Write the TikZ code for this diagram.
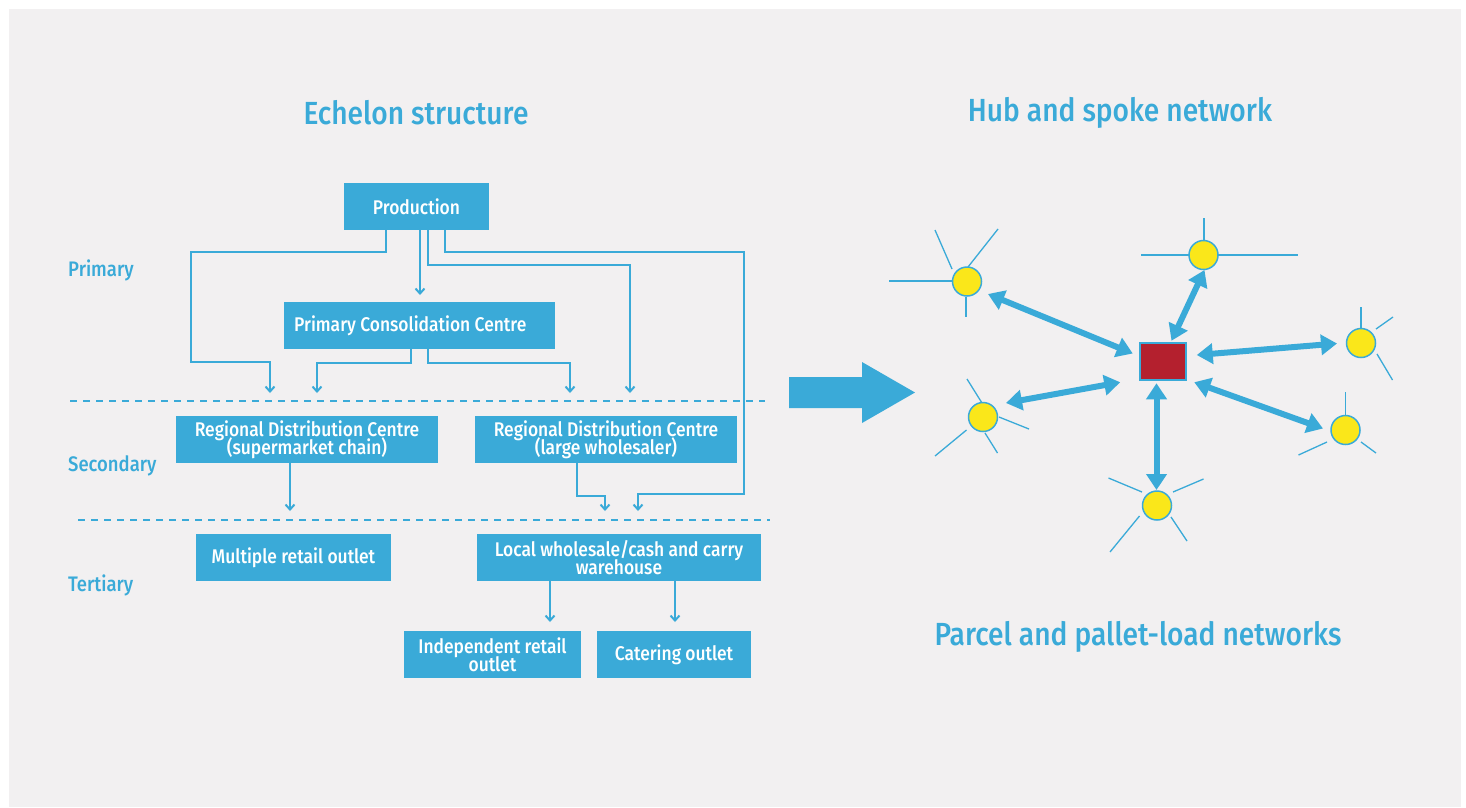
\documentclass[tikz,border=0pt]{standalone}
\usepackage{fontspec}
\IfFontExistsTF{Fira Sans Medium}{\setmainfont{Fira Sans}[BoldFont={Fira Sans Medium},FakeStretch=0.88]}{\setmainfont{Fira Sans}[FakeStretch=0.88]}
\usetikzlibrary{arrows.meta,calc}
\definecolor{eblue}{RGB}{58,170,216}
\definecolor{bggray}{RGB}{242,240,241}
\definecolor{hubred}{RGB}{180,32,46}
\definecolor{spokey}{RGB}{250,231,26}
\newcommand\tightlskip{\lineskiplimit=-20pt\relax}
\tikzset{
  box/.style={fill=eblue,text=white,font=\bfseries\fontsize{19.8}{18}\selectfont\tightlskip,inner sep=0pt,minimum height=47pt,align=center},
  conn/.style={draw=eblue,line width=2.2pt,-{Straight Barb[length=5pt,width=9pt,line width=2pt]}},
  dline/.style={draw=eblue,line width=2pt,dash pattern=on 7pt off 6pt},
  lvl/.style={text=eblue,font=\bfseries\fontsize{21}{23}\selectfont,anchor=west,inner sep=0pt},
  ttl/.style={text=eblue,font=\bfseries\fontsize{32}{34}\selectfont,inner sep=0pt},
  hubbox/.style={fill=hubred,draw=eblue,line width=1.5pt,minimum width=46pt,minimum height=37pt,inner sep=0pt},
  spoke/.style={circle,fill=spokey,draw=eblue,line width=1.5pt,minimum size=29pt,inner sep=0pt},
  ray/.style={draw=eblue,line width=1.3pt},
  dbl/.style={draw=eblue,line width=6pt,{Triangle[length=16pt,width=20pt]}-{Triangle[length=16pt,width=20pt]}},
}
\begin{document}
\begin{tikzpicture}[x=1pt,y=-1pt]
\useasboundingbox (0,0) rectangle (1466,807);
\fill[white] (0,0) rectangle (1466,807);
\fill[bggray] (9,9) rectangle (1461,807);

% titles
\node[ttl] (t1) at (416,113) {Echelon structure};
\node[ttl] (t2) at (1120,113) {Hub and spoke network};
\node[ttl] (t3) at (1138,637) {Parcel and pallet-load networks};

% level labels
\node[lvl] (lp) at (68,270) {Primary};
\node[lvl] (ls) at (68,466) {Secondary};
\node[lvl] (lt) at (68,585) {Tertiary};

% boxes
\node[box,minimum width=145pt] (prod) at (416.5,206.5) {Production};
\node[box,minimum width=271pt] (pcc) at (419.5,325.5) {};
\node[text=white,font=\bfseries\fontsize{19.8}{18}\selectfont,anchor=west,inner sep=0pt] (pcct) at (294,325.5) {Primary Consolidation Centre};
\node[box,minimum width=262pt] (rdcs) at (307,439.5) {Regional Distribution Centre\\(supermarket chain)};
\node[box,minimum width=262pt] (rdcl) at (606,439.5) {Regional Distribution Centre\\(large wholesaler)};
\node[box,minimum width=195pt] (mro) at (293.5,557.5) {Multiple retail outlet};
\node[box,minimum width=284pt] (lw) at (619,557.5) {Local wholesale/cash and carry\\warehouse};
\node[box,minimum width=177pt] (iro) at (492.5,654.5) {Independent retail\\outlet};
\node[box,minimum width=154pt] (cat) at (674,654.5) {Catering outlet};

% dashed level lines
\draw[dline] (70,401) -- (765,401);
\draw[dline] (78,520) -- (770,520);

% connectors
\draw[conn] (prod.south -| 386,0) |- (191,252) |- (270,362) -- (270,393);
\draw[conn] (prod.south -| 420,0) -- (420,295);
\draw[conn] (prod.south -| 428,0) |- (630,265) -- (630,393);
\draw[conn] (prod.south -| 445,0) |- (744,252) |- (638,494) -- (638,511);
\draw[conn] (pcc.south -| 411,0) |- (317,363) -- (317,393);
\draw[conn] (pcc.south -| 428,0) |- (570,363) -- (570,393);
\draw[conn] (rdcs.south -| 290,0) -- (290,511);
\draw[conn] (rdcl.south -| 577,0) |- (605,496) -- (605,511);
\draw[conn] (lw.south -| 550,0) -- (550,622);
\draw[conn] (lw.south -| 675,0) -- (675,622);

% big arrow
\fill[eblue] (789,377) -- (862,377) -- (862,362) -- (915,392.5) -- (862,423) -- (862,408) -- (789,408) -- cycle;

% hub and spokes
\node[hubbox] (hub) at (1163,361.5) {};
% rays
\draw[ray] (889,281) -- (952,281);
\draw[ray] (935,230) -- (952,269);
\draw[ray] (968,267) -- (998,229);
\draw[ray] (966,297) -- (966,317);
\draw[ray] (1204,218) -- (1204,241);
\draw[ray] (1141,255) -- (1189,255);
\draw[ray] (1218,255) -- (1298,255);
\draw[ray] (1361,307) -- (1361,328);
\draw[ray] (1376,329) -- (1393,317);
\draw[ray] (1377,354) -- (1392.5,380);
\draw[ray] (1345.5,392) -- (1345.5,416);
\draw[ray] (1327,442) -- (1298.5,455);
\draw[ray] (1361,442) -- (1376,453);
\draw[ray] (982,403) -- (967,379);
\draw[ray] (999,417) -- (1029,429);
\draw[ray] (966.5,430) -- (935,456);
\draw[ray] (985,433) -- (997.5,453);
\draw[ray] (1142,492) -- (1108.5,478);
\draw[ray] (1173,492) -- (1203.5,479);
\draw[ray] (1139.5,516) -- (1110,552);
\draw[ray] (1171,517) -- (1187,541);

\node[spoke] (n1) at (967,281.5) {};
\node[spoke] (n2) at (1203.5,255) {};
\node[spoke] (n3) at (1361,343) {};
\node[spoke] (n4) at (1345.5,430) {};
\node[spoke] (n5) at (983,417) {};
\node[spoke] (n6) at (1157,505.5) {};

\draw[dbl] ($(n1)+(21,12.5)$) -- ($(hub.west)+(-6.5,-8)$);
\draw[dbl] ($(n2)+(1,15)$) -- ($(hub.north)+(8.5,-1.5)$);
\draw[dbl] ($(hub.east)+(10,-6.5)$) -- ($(n3)+(-24,0.5)$);
\draw[dbl] ($(hub.south east)+(7.5,1.5)$) -- ($(n4)+(-22.5,-1.5)$);
\draw[dbl] ($(hub.south west)+(-19,1.5)$) -- ($(n5)+(23,-14)$);
\draw[dbl] ($(hub.south)+(-6.5,2.5)$) -- ($(n6)+(-0.5,-15.5)$);
\end{tikzpicture}
\end{document}
